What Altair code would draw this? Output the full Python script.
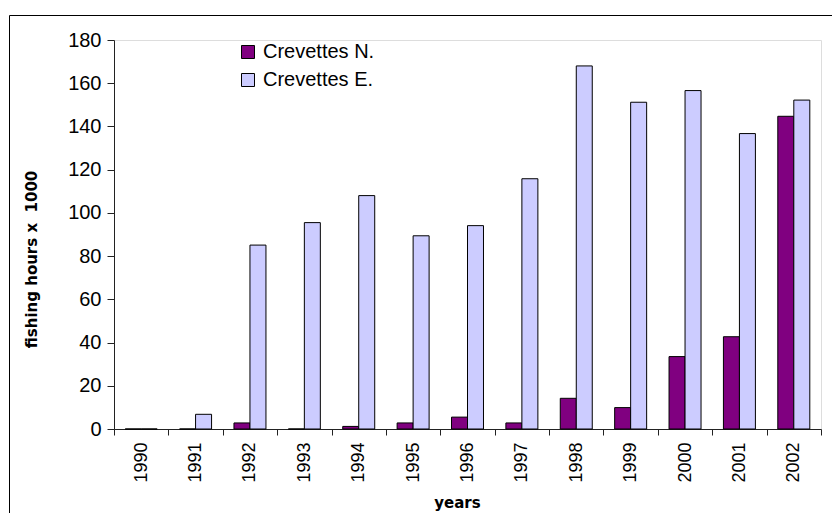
import altair as alt
import pandas as pd

years = ["1990", "1991", "1992", "1993", "1994", "1995", "1996",
         "1997", "1998", "1999", "2000", "2001", "2002"]
crevettes_n = [0, 0, 2.8, 0, 1.2, 2.8, 5.5, 2.8, 14.2, 9.9, 33.5, 42.7, 144.7]
crevettes_e = [0, 6.8, 85.1, 95.5, 108.0, 89.4, 94.1, 115.8, 168.0, 151.2, 156.6, 136.7, 152.2]
series = ["Crevettes N.", "Crevettes E."]
colors = ["#800080", "#CCCCFF"]
y_ticks = [0, 20, 40, 60, 80, 100, 120, 140, 160, 180]

rows = []
for i, yr in enumerate(years):
    rows.append({"year": yr, "series": series[0], "value": crevettes_n[i]})
    rows.append({"year": yr, "series": series[1], "value": crevettes_e[i]})
df = pd.DataFrame(rows)

W, H = 707, 389
FONT = "Liberation Sans"
TFONT = "DejaVu Sans"

bars = alt.Chart(df).mark_bar(stroke="black", strokeWidth=1).encode(
    x=alt.X("year:N", sort=years,
            scale=alt.Scale(paddingInner=0, paddingOuter=0),
            axis=alt.Axis(title="years", labelAngle=270, labelAlign="right",
                          labelBaseline="middle", labelPadding=7, tickSize=6,
                          tickBand="extent", labelFont=FONT, labelFontSize=18,
                          labelColor="black", domainColor="#222", tickColor="#222",
                          titleFont=TFONT, titleFontSize=15, titleFontWeight="bold",
                          titleColor="black", titleX=343, titleY=78,
                          titleAlign="center", titleBaseline="alphabetic",
                          grid=False)),
    xOffset=alt.XOffset("series:N", sort=series,
                        scale=alt.Scale(domain=series, paddingOuter=0.7, paddingInner=0)),
    y=alt.Y("value:Q",
            scale=alt.Scale(domain=[0, 180], nice=False, zero=True),
            axis=alt.Axis(title="fishing hours x\u00a0 1000", values=y_ticks, tickSize=7,
                          labelPadding=6, labelFont=FONT, labelFontSize=20,
                          labelColor="black", domainColor="#222", tickColor="#222",
                          titleFont=TFONT, titleFontSize=15, titleFontWeight="bold",
                          titleColor="black", titleAngle=270, titleX=-78, titleY=219,
                          titleAlign="center", titleBaseline="alphabetic",
                          grid=False)),
    color=alt.Color("series:N", sort=series,
                    scale=alt.Scale(domain=series, range=colors),
                    legend=alt.Legend(title=None, orient="none", legendX=124, legendY=2,
                                      symbolType="square", symbolSize=169,
                                      symbolStrokeColor="black", symbolStrokeWidth=1,
                                      symbolOpacity=1,
                                      labelFont=FONT, labelFontSize=20, labelColor="black",
                                      labelOffset=5, rowPadding=8, padding=0)),
)

border = alt.Chart(pd.DataFrame({"k": [0]})).mark_rect(
    fill="transparent", stroke="black", strokeWidth=1, clip=False
).encode(
    x=alt.value(-104.5), x2=alt.value(760),
    y=alt.value(-24.5), y2=alt.value(520),
)

chart = alt.layer(border, bars).properties(
    width=W, height=H,
    autosize=alt.AutoSizeParams(type="none"),
    padding={"left": 106, "top": 32, "right": 11, "bottom": 84},
).configure_view(stroke=None).configure(background="white")

chart.save("out.html", embed_options={"renderer": "svg", "actions": False})
